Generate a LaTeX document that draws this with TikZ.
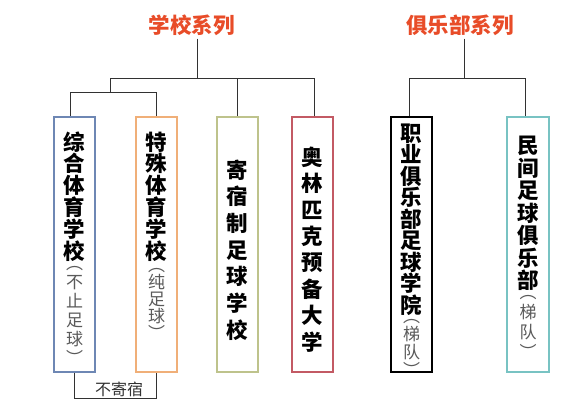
\documentclass[tikz,border=0pt]{standalone}
\usepackage{fontspec}
\setmainfont{Noto Sans CJK SC}
\definecolor{cA}{RGB}{110,135,180}
\definecolor{cB}{RGB}{240,175,120}
\definecolor{cC}{RGB}{190,195,140}
\definecolor{cD}{RGB}{195,90,100}
\definecolor{cF}{RGB}{120,195,195}
\definecolor{lineC}{RGB}{50,50,50}
\definecolor{grayT}{RGB}{90,90,90}
\definecolor{titleC}{RGB}{232,76,40}
\newcommand\vs[1]{\raisebox{0pt}[0.88em][0.12em]{#1}}
\newcommand\vpo[1]{\raisebox{0pt}[0.35em][0.12em]{#1}}
\newcommand\vpc[1]{\raisebox{0pt}[0.88em][0pt]{#1}}
\begin{document}
\begin{tikzpicture}[x=1pt,y=-1pt,
  boxnode/.style={draw, line width=1.4pt, minimum width=41pt, minimum height=255pt, inner sep=0pt, fill=white},
  maintext/.style={font=\bfseries\fontsize{21.5}{#1}\selectfont, align=center, inner sep=0pt},
  graytext/.style={font=\fontsize{17}{#1}\selectfont, text=grayT, align=center, inner sep=0pt, anchor=north},
  titletext/.style={font=\bfseries\fontsize{21.5}{24}\selectfont, text=titleC, inner sep=0pt},
  conn/.style={draw=lineC, line width=1pt}]
\useasboundingbox (0,0) rectangle (581,415);
% titles
\node[titletext] (t1) at (191.5,25) {学校系列};
\node[titletext] (t2) at (460,25) {俱乐部系列};
% boxes
\node[boxnode, draw=cA] (b1) at (74.5,244.5) {};
\node[boxnode, draw=cB] (b2) at (156.5,244.5) {};
\node[boxnode, draw=cC] (b3) at (237.5,244.5) {};
\node[boxnode, draw=cD] (b4) at (312.5,244.5) {};
\node[boxnode, draw=black, line width=1.8pt] (b5) at (411.5,244.5) {};
\node[boxnode, draw=cF, minimum width=42pt] (b6) at (528,244.5) {};
% texts
\node[maintext=21.8] (m1) at (74.5,196.5) {\vs{综}\\\vs{合}\\\vs{体}\\\vs{育}\\\vs{学}\\\vs{校}};
\node[graytext=19] (g1) at (74.5,263.5) {\vpo{︵}\\\vs{不}\\\vs{止}\\\vs{足}\\\vs{球}\\\vpc{︶}};
\node[maintext=21.8] (m2) at (156.5,196.5) {\vs{特}\\\vs{殊}\\\vs{体}\\\vs{育}\\\vs{学}\\\vs{校}};
\node[graytext=17] (g2) at (156.5,265.5) {\vpo{︵}\\\vs{纯}\\\vs{足}\\\vs{球}\\\vpc{︶}};
\node[maintext=26.7] (m3) at (237.5,250) {\vs{寄}\\\vs{宿}\\\vs{制}\\\vs{足}\\\vs{球}\\\vs{学}\\\vs{校}};
\node[maintext=26.4] (m4) at (312.5,249.5) {\vs{奥}\\\vs{林}\\\vs{匹}\\\vs{克}\\\vs{预}\\\vs{备}\\\vs{大}\\\vs{学}};
\node[maintext=21.5] (m5) at (411.5,219) {\vs{职}\\\vs{业}\\\vs{俱}\\\vs{乐}\\\vs{部}\\\vs{足}\\\vs{球}\\\vs{学}\\\vs{院}};
\node[graytext=18] (g5) at (411.5,316.5) {\vpo{︵}\\\vs{梯}\\\vs{队}\\\vpc{︶}};
\node[maintext=21.3] (m6) at (528,213) {\vs{民}\\\vs{间}\\\vs{足}\\\vs{球}\\\vs{俱}\\\vs{乐}\\\vs{部}};
\node[graytext=20] (g6) at (528,292.5) {\vpo{︵}\\\vs{梯}\\\vs{队}\\\vpc{︶}};
\node[font=\fontsize{16}{18}\selectfont, text=lineC, inner sep=0pt] (n1) at (119,389) {不寄宿};
% connectors left
\coordinate (k1) at (197,78);
\coordinate (hL) at (110,78);
\coordinate (hR) at (314,78);
\coordinate (sL) at (70,92);
\coordinate (sR) at (156.5,92);
\coordinate (u) at (0,398);
\draw[conn] ([yshift=-3pt]t1.south -| k1) -- (k1);
\draw[conn] (hL) -- (hR);
\draw[conn] (hL) -- (hL |- sL);
\draw[conn] (sL) -- (sR);
\draw[conn] (sL) -- (sL |- b1.north);
\draw[conn] (sR) -- (sR |- b2.north);
\draw[conn] (hL -| b3.north) -- (b3.north);
\draw[conn] (hR) -- (hR |- b4.north);
\draw[conn] (b1.south) -- (b1.south |- u) -- (b2.south |- u) -- (b2.south);
% connectors right
\coordinate (k2) at (464,78);
\coordinate (rL) at (409,78);
\coordinate (rR) at (525,78);
\draw[conn] ([yshift=-3pt]t2.south -| k2) -- (k2);
\draw[conn] (rL) -- (rR);
\draw[conn] (rL) -- (rL |- b5.north);
\draw[conn] (rR) -- (rR |- b6.north);
\end{tikzpicture}
\end{document}
